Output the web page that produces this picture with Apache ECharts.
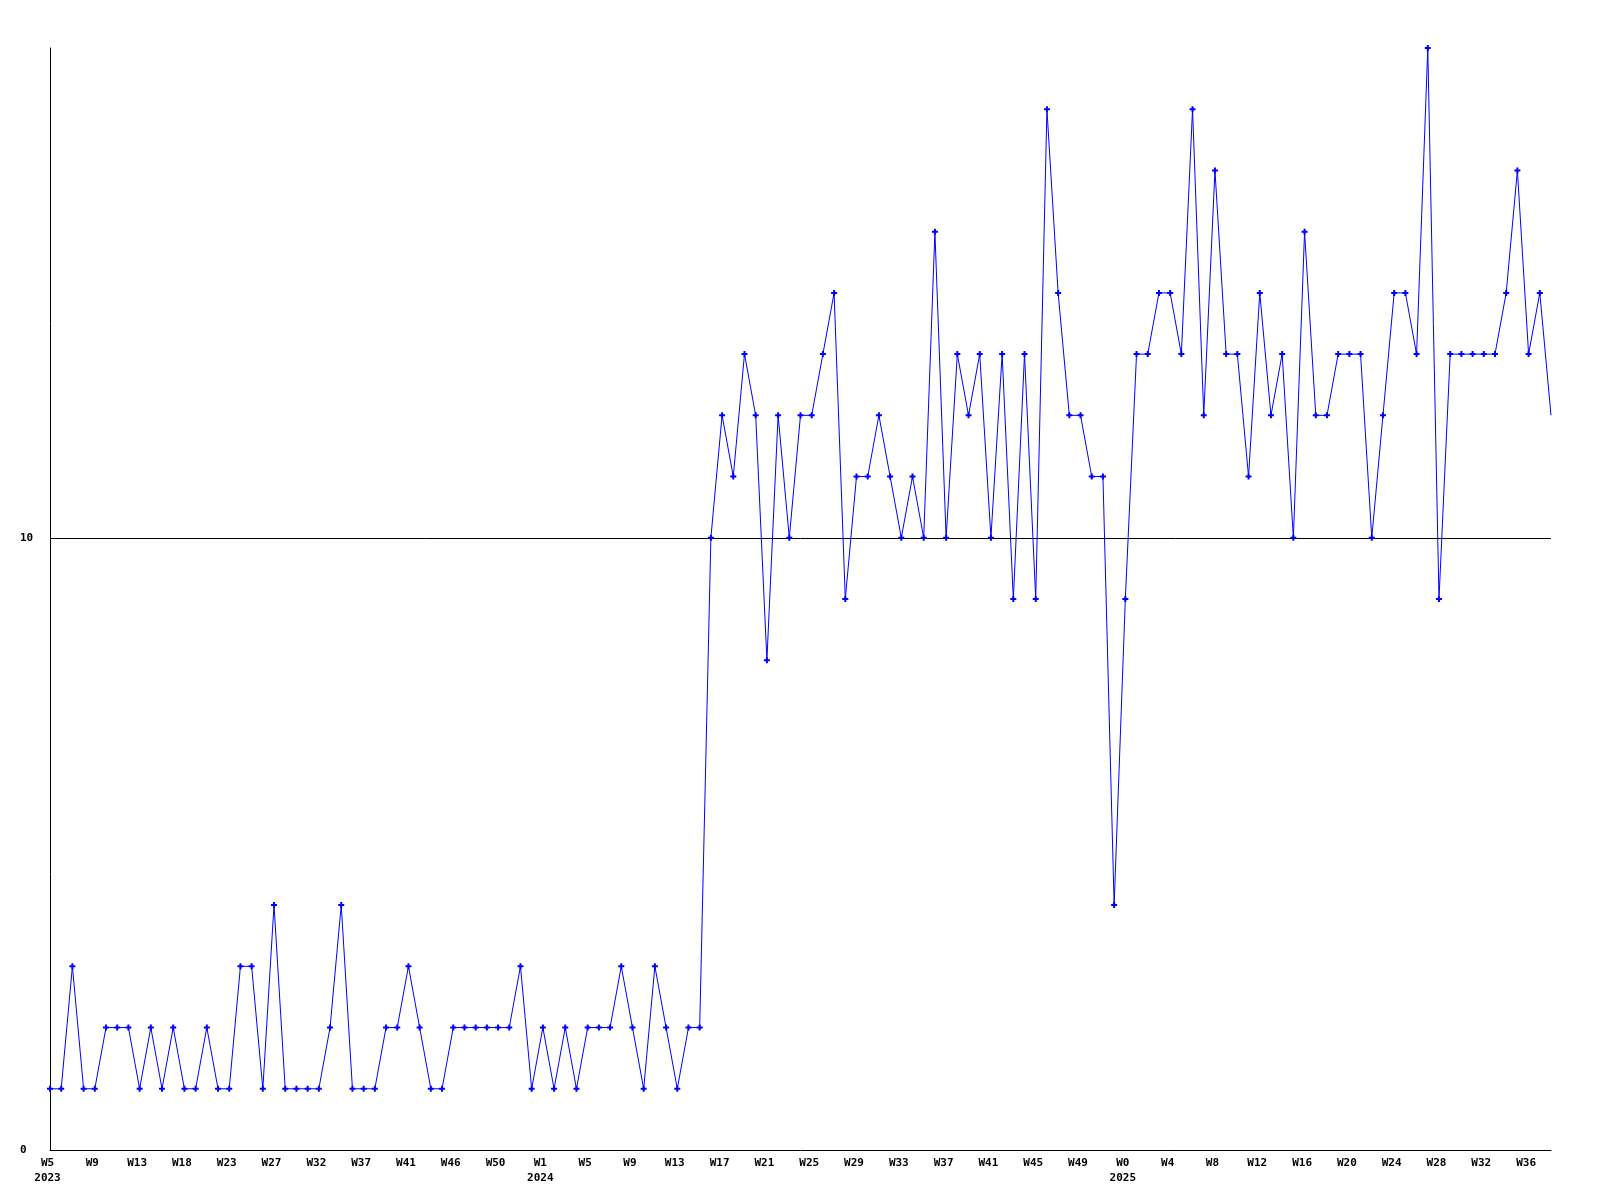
<!DOCTYPE html>
<html>
<head>
<meta charset="utf-8">
<script src="https://cdn.jsdelivr.net/npm/echarts@6/dist/echarts.min.js"></script>
<style>
  html, body { margin: 0; padding: 0; background: #fff; }
</style>
</head>
<body>
<div id="chart" style="width: 1600px; height: 1200px;"></div>
<script>
// weekly values, one per point (left to right)
const counts = [
  1, 1, 3, 1, 1, 2, 2, 2, 1, 2, 1, 2, 1, 1, 2, 1, 1, 3, 3, 1,
  4, 1, 1, 1, 1, 2, 4, 1, 1, 1, 2, 2, 3, 2, 1, 1, 2, 2, 2, 2,
  2, 2, 3, 1, 2, 1, 2, 1, 2, 2, 2, 3, 2, 1, 3, 2, 1, 2, 2,
  10, 12, 11, 13, 12, 8, 12, 10, 12, 12, 13, 14, 9, 11, 11, 12, 11, 10, 11, 10,
  15, 10, 13, 12, 13, 10, 13,
  9, 13, 9, 17, 14, 12, 12, 11, 11, 4, 9, 13, 13, 14, 14, 13, 17, 12, 16, 13,
  13, 11, 14, 12, 13, 10,
  15, 12, 12, 13, 13, 13, 10, 12, 14, 14, 13, 18, 9, 13, 13, 13, 13, 13, 14, 16,
  13, 14, 12
];

// one label every 4 points
const weekLabels = [
  'W5', 'W9', 'W13', 'W18', 'W23', 'W27', 'W32', 'W37', 'W41', 'W46', 'W50',
  'W1', 'W5', 'W9', 'W13', 'W17', 'W21', 'W25', 'W29', 'W33', 'W37', 'W41', 'W45', 'W49',
  'W0', 'W4', 'W8', 'W12', 'W16', 'W20', 'W24', 'W28', 'W32', 'W36'
];
const yearAt = [0, 11, 24];   // index into weekLabels
const yearNames = ['2023', '2024', '2025'];

const yTicks = [0, 10];

const chart = echarts.init(document.getElementById('chart'));

const font = { fontFamily: 'DejaVu Sans Mono', fontWeight: 'bold', fontSize: 11, color: '#000' };

const lastIdx = counts.length - 1;

chart.setOption({
  animation: false,
  backgroundColor: '#fff',
  grid: { left: 50, right: 49, top: 48, bottom: 50, containLabel: false },
  xAxis: {
    type: 'value',
    min: 0,
    max: lastIdx,
    interval: 4,
    axisLine: { show: true, lineStyle: { color: '#000', width: 1 } },
    axisTick: { show: false },
    splitLine: { show: false },
    axisLabel: Object.assign({}, font, {
      margin: 6,
      lineHeight: 15,
      padding: [0, 5, 0, 0],
      showMaxLabel: false,
      formatter: function (v) {
        const k = Math.round(v / 4);
        if (v % 4 !== 0 || !weekLabels[k]) return '';
        const y = yearAt.indexOf(k);
        return y >= 0 ? weekLabels[k] + '\n' + yearNames[y] : weekLabels[k];
      }
    })
  },
  yAxis: {
    type: 'value',
    min: 0,
    max: 18,
    interval: 10,
    axisLine: { show: true, lineStyle: { color: '#000', width: 1 } },
    axisTick: { show: false },
    splitLine: { show: true, lineStyle: { color: ['transparent', '#000', 'transparent'], width: 1 } },
    axisLabel: Object.assign({}, font, {
      align: 'left',
      margin: 30,
      showMaxLabel: false,
      formatter: function (v) { return yTicks.indexOf(v) >= 0 ? String(v) : ''; }
    })
  },
  series: [{
    type: 'line',
    data: counts.map((v, i) => i === lastIdx ? { value: [i, v], symbol: 'none' } : [i, v]),
    // small plus-shaped marker like the original
    symbol: 'path://M2,0H4V2H6V4H4V6H2V4H0V2H2Z',
    symbolSize: 6,
    showAllSymbol: true,
    lineStyle: { color: '#0000ff', width: 1 },
    itemStyle: { color: '#0000ff' },
    emphasis: { disabled: true }
  }]
});
</script>
</body>
</html>
